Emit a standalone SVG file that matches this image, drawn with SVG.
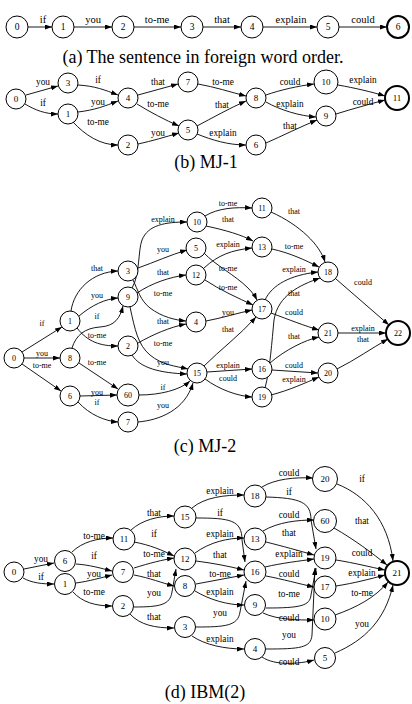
<svg xmlns="http://www.w3.org/2000/svg" width="412" height="704" viewBox="0 0 412 704" font-family="Liberation Serif, serif">
<defs>
<marker id="ah" markerUnits="userSpaceOnUse" markerWidth="7" markerHeight="5" refX="7" refY="2.5" orient="auto"><path d="M0,0 L7,2.5 L0,5 z" fill="#000"/></marker>
<style>
circle{fill:#fff;stroke:#000;stroke-width:1}
circle.f{stroke-width:2}
text{font-family:'Liberation Serif',serif;fill:#000;text-anchor:middle}
.e path{fill:none;stroke:#000;stroke-width:0.9;marker-end:url(#ah)}
.la text{font-size:10.5px}
.lb text{font-size:9.3px}
.lc text{font-size:8px}
.ld text{font-size:9.3px}
.na text{font-size:9.5px}
.nb text{font-size:9px}
.nc text{font-size:8px}
.nd text{font-size:9px}
.cap{font-size:18px}
</style>
</defs>
<rect width="412" height="704" fill="#fff"/>

<!-- (a) -->
<g id="edges-a" class="e">
<path d="M28,27 L52,27"/><path d="M74,27 L112,27"/><path d="M134,27 L181,27"/><path d="M203,27 L241,27"/><path d="M263,27 L317,27"/><path d="M339,27 L387,27"/>
</g>
<g class="la">
<text x="43" y="23">if</text><text x="93" y="23">you</text><text x="157" y="23">to-me</text><text x="222" y="23">that</text><text x="291" y="23">explain</text><text x="363" y="23">could</text>
</g>
<g class="na">
<g id="a0"><circle cx="17" cy="27" r="11"/><text x="17" y="30">0</text></g>
<g id="a1"><circle cx="63" cy="27" r="11"/><text x="63" y="30">1</text></g>
<g id="a2"><circle cx="123" cy="27" r="11"/><text x="123" y="30">2</text></g>
<g id="a3"><circle cx="192" cy="27" r="11"/><text x="192" y="30">3</text></g>
<g id="a4"><circle cx="252" cy="27" r="11"/><text x="252" y="30">4</text></g>
<g id="a5"><circle cx="328" cy="27" r="11"/><text x="328" y="30">5</text></g>
<g id="a6"><circle class="f" cx="398" cy="27" r="11"/><text x="398" y="30">6</text></g>
</g>
<text class="cap" x="203" y="63">(a) The sentence in foreign word order.</text>

<!-- (b) -->
<g id="edges-b" class="e">
<path d="M26,95 L58,86"/>
<path d="M25,104 C35,110 45,114 58,114"/>
<path d="M78,85 C95,86 105,90 118,95"/>
<path d="M78,112 C95,110 105,106 118,101"/>
<path d="M73,122 C85,135 100,145 118,145"/>
<path d="M138,95 L178,84"/>
<path d="M137,104 C150,112 165,120 179,126"/>
<path d="M138,144 C152,141 165,137 179,133"/>
<path d="M198,84 C215,87 230,92 246,96"/>
<path d="M197,126 C212,118 230,108 246,101"/>
<path d="M197,134 C212,140 228,145 246,145"/>
<path d="M266,95 C280,90 298,86 314,84"/>
<path d="M266,102 C280,110 300,116 316,117"/>
<path d="M266,143 C282,136 300,127 317,120"/>
<path d="M338,85 C355,88 372,92 385,96"/>
<path d="M336,114 C352,109 370,104 385,100"/>
</g>
<g class="lb">
<text x="43" y="85">you</text><text x="43" y="106">if</text><text x="98" y="83">if</text><text x="98" y="105">you</text><text x="98" y="125">to-me</text>
<text x="158" y="85">that</text><text x="158" y="107">to-me</text><text x="158" y="136">you</text>
<text x="223" y="85">to-me</text><text x="222" y="108">that</text><text x="223" y="136">explain</text>
<text x="290" y="85">could</text><text x="290" y="107">explain</text><text x="290" y="129">that</text>
<text x="363" y="83">explain</text><text x="363" y="105">could</text>
</g>
<g class="nb">
<g id="b0"><circle cx="16" cy="99" r="10"/><text x="16" y="102">0</text></g>
<g id="b3"><circle cx="68" cy="83" r="10"/><text x="68" y="86">3</text></g>
<g id="b1"><circle cx="68" cy="114" r="10"/><text x="68" y="117">1</text></g>
<g id="b4"><circle cx="128" cy="98" r="10"/><text x="128" y="101">4</text></g>
<g id="b2"><circle cx="128" cy="145" r="10"/><text x="128" y="148">2</text></g>
<g id="b7"><circle cx="188" cy="82" r="10"/><text x="188" y="85">7</text></g>
<g id="b5"><circle cx="188" cy="130" r="10"/><text x="188" y="133">5</text></g>
<g id="b8"><circle cx="256" cy="98" r="10"/><text x="256" y="101">8</text></g>
<g id="b6"><circle cx="256" cy="145" r="10"/><text x="256" y="148">6</text></g>
<g id="b10"><circle cx="326" cy="82" r="12"/><text x="326" y="85">10</text></g>
<g id="b9"><circle cx="326" cy="116" r="10"/><text x="326" y="119">9</text></g>
<g id="b11"><circle class="f" cx="397" cy="98" r="12"/><text x="397" y="101">11</text></g>
</g>
<text class="cap" x="206" y="168">(b) MJ-1</text>

<!-- (c) -->
<g id="edges-c" class="e">
<path d="M22,352 L62,327"/>
<path d="M24,358 L60,358"/>
<path d="M22,364 L61,391"/>
<path d="M71,311 C74,290 92,272 118,271"/>
<path d="M79,316 C92,305 105,299 118,298"/>
<path d="M77,328 C88,342 100,346 118,346"/>
<path d="M72,348 C76,335 85,328 100,327 C115,326 120,318 123,306"/>
<path d="M79,363 L118,389"/>
<path d="M80,396 L117,395"/>
<path d="M78,402 C90,415 105,421 118,422"/>
<path d="M139,395 C160,395 180,390 190,381"/>
<path d="M138,422 C160,420 185,410 193,383"/>
<path d="M132,288 C140,275 138,250 142,240 C148,225 165,222 187,222"/>
<path d="M138,268 C155,262 170,255 187,250"/>
<path d="M137,293 C152,283 170,277 186,275"/>
<path d="M133,280 C138,290 140,300 150,308 C162,317 175,320 186,321"/>
<path d="M138,343 C152,335 170,327 186,324"/>
<path d="M130,307 C135,330 138,345 150,355 C162,365 175,366 188,369"/>
<path d="M132,355 C140,368 160,373 187,374"/>
<path d="M205,216 C218,208 235,207 252,208"/>
<path d="M206,226 C225,230 242,235 253,241"/>
<path d="M204,268 C218,255 232,250 252,248"/>
<path d="M204,253 C215,265 235,275 248,288 C252,292 255,296 257,300"/>
<path d="M205,280 C220,290 238,298 253,305"/>
<path d="M206,321 C222,318 238,313 252,310"/>
<path d="M204,366 C220,350 240,335 256,317"/>
<path d="M207,372 L252,369"/>
<path d="M205,379 C220,390 238,396 252,397"/>
<path d="M271,212 C300,225 320,245 325,262"/>
<path d="M272,249 C290,253 305,260 319,267"/>
<path d="M265,300 C272,285 290,275 318,272"/>
<path d="M265,388 C270,370 272,340 274,320 C278,295 300,285 320,278"/>
<path d="M271,313 C290,320 305,326 319,330"/>
<path d="M270,363 C285,350 305,340 319,337"/>
<path d="M272,370 L318,373"/>
<path d="M271,395 C290,390 305,383 319,377"/>
<path d="M336,279 L389,325"/>
<path d="M338,333 L386,333"/>
<path d="M337,369 C355,360 372,348 388,339"/>
</g>
<g class="lc">
<text x="42" y="326">if</text><text x="42" y="356">you</text><text x="42" y="368">to-me</text>
<text x="97" y="271">that</text><text x="97" y="298">you</text><text x="97" y="319">if</text><text x="97" y="338">to-me</text><text x="97" y="365">to-me</text><text x="97" y="395">you</text><text x="97" y="405">if</text>
<text x="163" y="390">if</text><text x="163" y="408">you</text>
<text x="163" y="222">explain</text><text x="163" y="252">you</text><text x="163" y="275">that</text><text x="163" y="296">to-me</text><text x="163" y="324">that</text><text x="163" y="346">to-me</text><text x="163" y="365">you</text>
<text x="228" y="206">to-me</text><text x="228" y="222">that</text><text x="228" y="247">explain</text><text x="228" y="271">to-me</text><text x="228" y="290">to-me</text><text x="228" y="315">you</text><text x="228" y="332">that</text><text x="228" y="368">explain</text><text x="228" y="381">could</text>
<text x="294" y="214">that</text><text x="294" y="249">to-me</text><text x="294" y="272">explain</text><text x="294" y="296">that</text><text x="294" y="315">could</text><text x="294" y="339">that</text><text x="294" y="368">could</text><text x="294" y="382">explain</text>
<text x="363" y="285">could</text><text x="363" y="331">explain</text><text x="363" y="342">that</text>
</g>
<g class="nc">
<g id="c0"><circle cx="14" cy="358" r="10"/><text x="14" y="361">0</text></g>
<g id="c1"><circle cx="70" cy="321" r="10"/><text x="70" y="324">1</text></g>
<g id="c8"><circle cx="70" cy="358" r="10"/><text x="70" y="361">8</text></g>
<g id="c6"><circle cx="70" cy="396" r="10"/><text x="70" y="399">6</text></g>
<g id="c3"><circle cx="128" cy="271" r="10"/><text x="128" y="274">3</text></g>
<g id="c9"><circle cx="128" cy="297" r="10"/><text x="128" y="300">9</text></g>
<g id="c2"><circle cx="128" cy="346" r="10"/><text x="128" y="349">2</text></g>
<g id="c60"><circle cx="128" cy="395" r="11"/><text x="128" y="398">60</text></g>
<g id="c7"><circle cx="128" cy="422" r="10"/><text x="128" y="425">7</text></g>
<g id="c10"><circle cx="197" cy="222" r="10"/><text x="197" y="225">10</text></g>
<g id="c5"><circle cx="196" cy="248" r="10"/><text x="196" y="251">5</text></g>
<g id="c12"><circle cx="196" cy="275" r="10"/><text x="196" y="278">12</text></g>
<g id="c4"><circle cx="196" cy="322" r="10"/><text x="196" y="325">4</text></g>
<g id="c15"><circle cx="197" cy="373" r="10"/><text x="197" y="376">15</text></g>
<g id="c11"><circle cx="262" cy="208" r="10"/><text x="262" y="211">11</text></g>
<g id="c13"><circle cx="262" cy="247" r="10"/><text x="262" y="250">13</text></g>
<g id="c17"><circle cx="262" cy="309" r="10"/><text x="262" y="312">17</text></g>
<g id="c16"><circle cx="262" cy="369" r="10"/><text x="262" y="372">16</text></g>
<g id="c19"><circle cx="262" cy="397" r="10"/><text x="262" y="400">19</text></g>
<g id="c18"><circle cx="328" cy="272" r="10"/><text x="328" y="275">18</text></g>
<g id="c21"><circle cx="328" cy="333" r="10"/><text x="328" y="336">21</text></g>
<g id="c20"><circle cx="328" cy="373" r="10"/><text x="328" y="376">20</text></g>
<g id="c22"><circle class="f" cx="398" cy="333" r="12"/><text x="398" y="336">22</text></g>
</g>
<text class="cap" x="205" y="452">(c) MJ-2</text>

<!-- (d) -->
<g id="edges-d" class="e">
<path d="M24,569 L54,563"/>
<path d="M23,578 C32,583 42,584 54,584"/>
<path d="M72,552 C82,542 98,538 113,538"/>
<path d="M76,564 C90,565 100,568 112,571"/>
<path d="M76,583 C90,581 100,578 112,575"/>
<path d="M73,592 C82,602 95,606 112,606"/>
<path d="M131,530 C142,520 158,516 174,516"/>
<path d="M134,542 C150,545 162,550 174,556"/>
<path d="M134,568 C150,563 162,560 174,558"/>
<path d="M134,575 C150,578 162,583 174,586"/>
<path d="M134,607 C160,607 170,605 172,592 L176,569"/>
<path d="M130,614 C140,625 155,628 174,628"/>
<path d="M192,508 C205,497 225,495 244,495"/>
<path d="M196,518 C230,518 242,520 242,540 L245,562"/>
<path d="M195,553 C210,542 228,538 244,538"/>
<path d="M196,561 C212,563 228,566 244,570"/>
<path d="M196,584 C212,581 228,578 244,575"/>
<path d="M195,591 C210,600 228,605 244,605"/>
<path d="M196,627 C225,627 238,626 240,612 L246,581"/>
<path d="M192,636 C205,645 225,649 244,649"/>
<path d="M262,487 C275,479 295,477 313,478"/>
<path d="M266,497 C300,498 311,502 311,520 L316,549"/>
<path d="M263,531 C278,522 298,520 314,520"/>
<path d="M266,542 C282,546 300,551 314,555"/>
<path d="M265,567 C282,563 300,561 314,559"/>
<path d="M266,576 C282,579 300,584 314,587"/>
<path d="M266,608 C300,608 310,606 311,595 L316,568"/>
<path d="M263,613 C278,620 298,620 314,620"/>
<path d="M266,649 C300,649 311,648 312,635 L315,568"/>
<path d="M262,657 C275,666 300,664 314,660"/>
<path d="M337,484 C365,495 388,520 393,561"/>
<path d="M334,528 C355,540 372,553 387,565"/>
<path d="M336,560 C355,563 370,567 385,570"/>
<path d="M336,586 C355,583 370,579 385,575"/>
<path d="M335,615 C355,608 375,598 388,582"/>
<path d="M335,653 C365,640 385,620 393,585"/>
</g>
<g class="ld">
<text x="41" y="562">you</text><text x="41" y="580">if</text>
<text x="94" y="539">to-me</text><text x="94" y="559">if</text><text x="94" y="577">you</text><text x="94" y="595">to-me</text>
<text x="154" y="516">that</text><text x="154" y="537">if</text><text x="154" y="557">to-me</text><text x="154" y="577">that</text><text x="154" y="596">you</text><text x="154" y="620">that</text>
<text x="220" y="494">explain</text><text x="220" y="516">if</text><text x="220" y="537">explain</text><text x="220" y="558">that</text><text x="220" y="577">to-me</text><text x="220" y="595">explain</text><text x="220" y="616">you</text><text x="220" y="642">explain</text>
<text x="289" y="476">could</text><text x="289" y="495">if</text><text x="289" y="518">could</text><text x="289" y="536">that</text><text x="289" y="557">explain</text><text x="289" y="577">could</text><text x="289" y="597">to-me</text><text x="289" y="621">could</text><text x="289" y="638">you</text><text x="289" y="665">could</text>
<text x="362" y="482">if</text><text x="362" y="524">that</text><text x="362" y="556">could</text><text x="362" y="576">explain</text><text x="362" y="596">to-me</text><text x="362" y="627">you</text>
</g>
<g class="nd">
<g id="d0"><circle cx="14" cy="572" r="10"/><text x="14" y="575">0</text></g>
<g id="d6"><circle cx="65" cy="561" r="10.5"/><text x="65" y="564">6</text></g>
<g id="d1"><circle cx="65" cy="584" r="10.5"/><text x="65" y="587">1</text></g>
<g id="d11"><circle cx="124" cy="539" r="11"/><text x="124" y="542">11</text></g>
<g id="d7"><circle cx="123" cy="572" r="10.5"/><text x="123" y="575">7</text></g>
<g id="d2"><circle cx="123" cy="606" r="10.5"/><text x="123" y="609">2</text></g>
<g id="d15"><circle cx="185" cy="517" r="11"/><text x="185" y="520">15</text></g>
<g id="d12"><circle cx="185" cy="559" r="11"/><text x="185" y="562">12</text></g>
<g id="d8"><circle cx="185" cy="586" r="10.5"/><text x="185" y="589">8</text></g>
<g id="d3"><circle cx="185" cy="627" r="10.5"/><text x="185" y="630">3</text></g>
<g id="d18"><circle cx="255" cy="496" r="11"/><text x="255" y="499">18</text></g>
<g id="d13"><circle cx="255" cy="539" r="11"/><text x="255" y="542">13</text></g>
<g id="d16"><circle cx="255" cy="572" r="11"/><text x="255" y="575">16</text></g>
<g id="d9"><circle cx="255" cy="605" r="10.5"/><text x="255" y="608">9</text></g>
<g id="d4"><circle cx="255" cy="649" r="10.5"/><text x="255" y="652">4</text></g>
<g id="d20"><circle cx="325" cy="479" r="12.5"/><text x="325" y="482">20</text></g>
<g id="d60"><circle cx="325" cy="521" r="11.5"/><text x="325" y="524">60</text></g>
<g id="d19"><circle cx="325" cy="558" r="11"/><text x="325" y="561">19</text></g>
<g id="d17"><circle cx="325" cy="587" r="11"/><text x="325" y="590">17</text></g>
<g id="d10"><circle cx="325" cy="619" r="11"/><text x="325" y="622">10</text></g>
<g id="d5"><circle cx="325" cy="658" r="10.5"/><text x="325" y="661">5</text></g>
<g id="d21"><circle class="f" cx="397" cy="573" r="12"/><text x="397" y="576">21</text></g>
</g>
<text class="cap" x="205" y="698">(d) IBM(2)</text>
</svg>
